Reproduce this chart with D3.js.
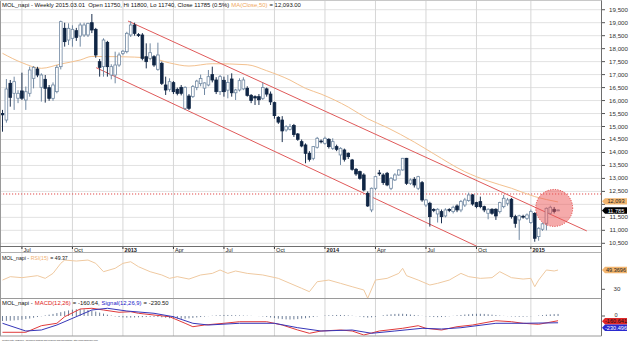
<!DOCTYPE html>
<html><head><meta charset="utf-8">
<script src="https://cdn.jsdelivr.net/npm/d3@7/dist/d3.min.js"></script>
<style>html,body{margin:0;padding:0;background:#fff;overflow:hidden}svg{display:block}text{font-family:"Liberation Sans",Arial,sans-serif;white-space:pre}</style>
</head><body><svg id="c" width="630" height="343"></svg>
<script>
// ---- DATA (weekly bars, index 0 = early Jun 2012, 143 = 2015.03.01) ----
const opens=[15500,15250,16664,16280,16090,16370,16020,16280,16857,17216,
16510,16818,16497,16086,16343,17306,18783,18333,18398,18693,
18487,18526,18526,19000,18744,17499,17306,18243,16985,16985,
17370,17820,17884,18526,18911,18540,18526,17690,17627,17691,
17204,17435,16600,16433,16690,16433,16510,15701,16176,16160,
16500,16650,16480,16600,17000,16793,16343,16780,16400,16831,
16300,16407,16450,16472,16202,16151,16150,16086,16450,16250,
15920,15355,15250,14867,14892,15040,14713,14417,14289,13968,
13775,14199,14440,14353,14507,14160,14225,13904,14096,13968,
13711,13351,13262,13133,12427,11785,12620,13210,13133,13198,
12620,12941,13133,13326,13775,12812,12966,12620,12838,11977,
12042,11800,11631,11721,11554,11800,11721,11939,11785,11977,
12145,12363,12068,12106,11913,11657,11811,11811,11721,11913,
12042,12196,11528,11400,11540,11464,11300,11650,10758,11041,
11271,11657,11811,11750];
const highs=[15640,16830,16793,16920,16400,17075,16540,17306,17330,17300,
17050,16985,16600,16700,17370,19080,19000,18975,18900,18800,
19000,19000,19000,19335,18800,17600,18398,18300,17400,17884,
17850,17950,18650,19065,19000,18600,18600,18205,18205,17750,
18231,17500,16921,16857,16750,16500,16600,16550,16250,16600,
16800,17000,16700,17178,17306,16900,16985,16921,16985,17050,
16450,16857,16896,16550,16250,16200,16250,16690,16500,16350,
15960,15400,15400,15050,15100,15100,14750,14500,14350,14050,
14250,14600,14500,14610,14550,14546,14300,14200,14150,14000,
13750,13400,13300,13200,12500,12650,13100,13326,13200,13250,
13050,13200,13350,13790,13790,13000,13050,13100,12900,12200,
12100,11850,11850,11800,11850,11850,11950,12000,12170,12250,
12453,12400,12100,12299,11950,11850,11850,11850,12100,12363,
12250,12250,11600,11600,11600,11650,11800,11700,11120,11300,
11880,11950,11900,11800];
const lows=[14800,15150,15765,15640,15900,16020,15640,16150,16470,16900,
15960,15920,15990,15990,16279,17200,18077,18140,18077,18300,
18077,18450,18450,18600,17650,16921,16921,16921,16818,16664,
17300,17750,17820,18450,18500,18450,17550,17240,17550,17300,
17150,16600,16215,16343,16250,16200,16200,15637,15637,16100,
16400,16550,16215,16550,16700,16250,16215,16150,16087,16150,
16022,16350,16400,16150,15900,15830,15830,16022,16150,15830,
15300,15100,14400,14800,14850,14600,14450,14200,13583,13650,
13700,14150,14350,14300,14150,14100,14050,13519,13650,13750,
13300,13100,12950,12500,11900,11700,12550,13100,12750,12700,
12550,12900,13100,13300,12750,12750,12650,12550,12100,11900,
11143,11700,11300,11271,11500,11700,11650,11700,11700,11900,
12100,11950,11850,11850,11700,11425,11600,11400,11650,11850,
11950,11450,11100,10630,11450,11400,11250,10560,10600,10980,
11000,11600,11650,11740];
const closes=[15450,16446,16125,16728,16280,16090,16340,17178,17280,16985,
16985,16471,16086,16600,17280,19040,18270,18783,18744,18436,
18911,18911,18975,18719,17756,17280,18333,17306,17306,17370,
17756,17900,18590,18911,18590,18510,17627,17499,17846,17370,
17756,16664,16407,16728,16343,16279,16279,16510,15701,16536,
16750,16850,16680,16920,16793,16343,16921,16343,16700,16300,
16407,16767,16793,16200,16000,16100,16030,16500,16250,15950,
15420,15170,14830,14995,14995,14690,14507,14250,13968,13737,
14225,14546,14410,14546,14225,14417,14122,14160,13737,13840,
13351,13172,13005,12556,11939,12620,13069,13180,12838,12748,
13005,13133,13326,13775,12812,12941,12748,13069,12170,12170,
11528,11780,11811,11528,11785,11770,11888,11785,12106,12170,
12363,12016,11913,11913,11785,11811,11657,11554,12068,12235,
12170,11528,11270,11560,11520,11592,11720,10694,11079,11250,
11849,11888,11726,11785];

const tickIdx=[5,18,31,44,57,70,83,96,109,122,136];
const tickLabels=["Jul","Oct","2013","Apr","Jul","Oct","2014","Apr","Jul","Oct","2015"];
const priceTicks=[10500,11000,11500,12000,12500,13000,13500,14000,14500,15000,15500,16000,16500,17000,17500,18000,18500,19000,19500];

// MA(Close,50) at bar indices
const maIdx=[0,5,10,15,20,23,30,38,43,48,54,63,68,74,78,82,89,94,99,106,111,119,125,131,137,143];
const maVal=[17820,17460,17243,17409,17563,17700,17690,17640,17450,17330,17420,17380,17150,16790,16470,16250,15750,15300,14960,14400,13950,13260,12900,12621,12300,12093];

// RSI(15)
const rsiIdx=[0,2,5,9,11,13,15,16,19,22,24,26,29,31,33,35,38,41,43,45,48,51,54,56,58,60,63,67,71,74,77,79,81,84,87,90,93,94,96,99,102,103,104,107,110,112,115,118,120,123,126,128,131,134,136,137,138,140,142,143];
const rsiVal=[39.3,42.7,41.7,43.7,41,46,56.1,59.4,58.4,59.4,56.1,47.7,51.1,56.1,57.7,52.7,47.7,44.4,41,42.7,40.3,44.4,46,49.4,46,48.4,46,44.4,41,36,31,27.6,37.6,39.3,36,32.6,29.3,21,39.3,41,46,51.1,43.7,39.3,34.3,36,39.3,46,42.7,41,41.7,47.7,41.7,40.3,41,32.6,39.3,49.4,48.4,49.37];

// MACD(12,26), Signal(12,26,9)
const macdIdx=[0,6,10,14,16,20,23,26,30,33,35,39,43,47,49,52,57,61,68,72,76,79,82,87,90,93,97,103,107,109,113,117,121,127,131,134,138,143];
const macdVal=[-554,-554,-330,-248,-24,238,262,204,126,146,92,34,-24,-248,-364,-306,-248,-194,-194,-306,-476,-588,-510,-476,-510,-646,-510,-418,-330,-418,-476,-364,-306,-160,-194,-248,-282,-160.64];
const sigIdx=[0,6,10,14,20,23,27,32,39,44,49,53,61,70,76,82,90,95,101,108,113,118,127,134,143];
const sigVal=[-248,-510,-476,-306,34,204,262,170,92,-24,-248,-306,-248,-248,-398,-510,-476,-588,-510,-418,-442,-398,-248,-248,-230.5];
const hist=[-170,-165,-160,-150,-140,-125,-105,-85,-60,-35,
-10,20,45,70,100,130,160,190,215,230,
235,225,205,180,150,115,80,45,15,-15,
-35,-50,-55,-55,-50,-45,-40,-35,-30,-30,
-35,-45,-60,-75,-85,-90,-95,-90,-80,-65,
-50,-35,-20,-5,10,20,30,35,35,30,
25,20,15,10,5,0,-5,-15,-30,-50,
-70,-90,-105,-115,-120,-115,-105,-90,-75,-55,
-35,-15,0,15,25,30,35,35,30,20,
10,-5,-20,-40,-55,-45,-25,0,25,45,
60,70,75,75,65,50,35,20,5,-10,
-25,-35,-40,-35,-25,-10,5,20,35,50,
60,70,75,75,70,60,45,30,15,5,
-5,-15,-20,-25,-25,-20,-10,0,15,30,
45,55,65,70];

// Trend channel (bar index, price) and annotations
const channelUpper=[[32.3,19065],[150.4,10976]];
const channelLower=[[24.1,17267],[122.4,10363]];
const resistanceLevel=12400;
const highlight={i:142,v:11862};

// ---- LAYOUT ----
const W=630,H=343,PL=0,PR=601;
const M={top:1,bottom:246}, AX={top:246,bottom:252.5}, R={top:252.5,bottom:298.5}, MC={top:298.5,bottom:336};
const X0=2.5,STEP=3.885;
const x=d3.scaleLinear().domain([0,143]).range([X0,X0+143*STEP]);
const y=d3.scaleLinear().domain([10500,19000]).range([243.3,22.7]);
const yR=d3.scaleLinear().domain([30,50]).range([289.3,269.4]);
const yM=d3.scaleLinear().domain([0,-340]).range([316,326]);

const svg=d3.select("#c");
const defs=svg.append("defs");
defs.append("clipPath").attr("id","cm").append("rect").attr("x",PL).attr("y",M.top).attr("width",PR-PL).attr("height",M.bottom-M.top);
defs.append("clipPath").attr("id","cr").append("rect").attr("x",PL).attr("y",R.top).attr("width",PR-PL).attr("height",R.bottom-R.top);
defs.append("clipPath").attr("id","cc").append("rect").attr("x",PL).attr("y",MC.top).attr("width",PR-PL).attr("height",MC.bottom-MC.top);

svg.append("rect").attr("width",W).attr("height",H).attr("fill","#fff");

// horizontal grid (main)
svg.append("g").selectAll("line").data(priceTicks).join("line")
  .attr("x1",PL).attr("x2",PR).attr("y1",d=>y(d)).attr("y2",d=>y(d))
  .attr("stroke","#e2e2e2").attr("stroke-width",1);
// vertical grid through all panels
svg.append("g").selectAll("line").data(tickIdx).join("line")
  .attr("x1",d=>x(d)).attr("x2",d=>x(d)).attr("y1",M.top).attr("y2",MC.bottom)
  .attr("stroke","#d6d6d6").attr("stroke-width",1);

// main panel content
const gm=svg.append("g").attr("clip-path","url(#cm)");
gm.append("line").attr("x1",PL).attr("x2",PR).attr("y1",y(resistanceLevel)).attr("y2",y(resistanceLevel))
  .attr("stroke","#e04848").attr("stroke-width",1).attr("stroke-dasharray","1.2,1.8");
const maLine=d3.line().x(d=>x(d[0])).y(d=>y(d[1])).curve(d3.curveMonotoneX);
gm.append("path").datum(maIdx.map((d,k)=>[d,maVal[k]])).attr("d",maLine)
  .attr("fill","none").attr("stroke","#f3c18f").attr("stroke-width",1);
[channelUpper,channelLower].forEach(c=>{
  gm.append("line").attr("x1",x(c[0][0])).attr("y1",y(c[0][1])).attr("x2",x(c[1][0])).attr("y2",y(c[1][1]))
    .attr("stroke","#e05a5a").attr("stroke-width",1);
});
const bars=d3.range(opens.length);
gm.append("g").selectAll("line").data(bars).join("line")
  .attr("x1",i=>x(i)).attr("x2",i=>x(i)).attr("y1",i=>y(highs[i])).attr("y2",i=>y(lows[i]))
  .attr("stroke",i=>closes[i]<opens[i]?"#1b2f4d":"#7088a2").attr("stroke-width",1);
const BW=2.7;
gm.append("g").selectAll("rect").data(bars).join("rect")
  .attr("x",i=>x(i)-BW/2).attr("width",BW)
  .attr("y",i=>y(Math.max(opens[i],closes[i])))
  .attr("height",i=>Math.max(0.8,Math.abs(y(opens[i])-y(closes[i]))))
  .attr("fill",i=>closes[i]<opens[i]?"#0f2544":"#ffffff")
  .attr("stroke",i=>closes[i]<opens[i]?"#0f2544":"#7088a2").attr("stroke-width",0.8);
gm.append("circle").attr("cx",x(highlight.i)).attr("cy",y(highlight.v)).attr("r",18.5)
  .attr("fill","#ec5656").attr("fill-opacity",0.5).attr("stroke","#e03c3c").attr("stroke-width",1).attr("stroke-dasharray","1,1.5");

// RSI panel
const gr=svg.append("g").attr("clip-path","url(#cr)");
gr.append("path").datum(rsiIdx.map((d,k)=>[d,rsiVal[k]]))
  .attr("d",d3.line().x(d=>x(d[0])).y(d=>yR(d[1])))
  .attr("fill","none").attr("stroke","#efc9a0").attr("stroke-width",1);

// MACD panel
const gc=svg.append("g").attr("clip-path","url(#cc)");
gc.append("g").selectAll("line").data(bars).join("line")
  .attr("x1",i=>x(i)).attr("x2",i=>x(i)).attr("y1",yM(0)).attr("y2",i=>yM(hist[i]))
  .attr("stroke","#5c6f8c").attr("stroke-width",0.9);
gc.append("path").datum(macdIdx.map((d,k)=>[d,macdVal[k]]))
  .attr("d",d3.line().x(d=>x(d[0])).y(d=>yM(d[1])))
  .attr("fill","none").attr("stroke","#e03a3a").attr("stroke-width",1);
gc.append("path").datum(sigIdx.map((d,k)=>[d,sigVal[k]]))
  .attr("d",d3.line().x(d=>x(d[0])).y(d=>yM(d[1])))
  .attr("fill","none").attr("stroke","#3636b8").attr("stroke-width",1);

// frames
const frame=svg.append("g").attr("fill","none");
frame.append("line").attr("x1",0.5).attr("x2",0.5).attr("y1",0).attr("y2",MC.bottom).attr("stroke","#9a9a9a");
frame.append("line").attr("x1",PR+0.5).attr("x2",PR+0.5).attr("y1",0).attr("y2",MC.bottom).attr("stroke","#6e6e6e");
[[0.5,"#c8c8c8"],[AX.top+0.5,"#6e6e6e"],[AX.bottom,"#b0b0b0"],[R.bottom,"#9a9a9a"],[MC.bottom,"#9a9a9a"]].forEach(([yy,c])=>{
  frame.append("line").attr("x1",0).attr("x2",PR+0.5).attr("y1",yy).attr("y2",yy).attr("stroke",c);
});

// x axis labels
const ax=svg.append("g");
ax.selectAll("line").data(tickIdx).join("line").attr("x1",d=>x(d)).attr("x2",d=>x(d)).attr("y1",AX.top+1).attr("y2",AX.top+3).attr("stroke","#333");
ax.selectAll("text").data(tickIdx).join("text").attr("x",d=>x(d)+1.6).attr("y",AX.top+5.9)
  .attr("font-size",5.6).attr("fill","#222").attr("font-weight",(d,k)=>/^\d/.test(tickLabels[k])?"bold":"normal")
  .text((d,k)=>tickLabels[k]);

// right price axis (labels hidden under the value tags are skipped, as in the reference)
const maTagY=y(maVal[maVal.length-1])-0.6, closeTagY=y(closes[closes.length-1])+0.6;
const ra=svg.append("g");
ra.selectAll("line").data(priceTicks).join("line").attr("x1",PR+1).attr("x2",PR+4).attr("y1",d=>y(d)).attr("y2",d=>y(d)).attr("stroke","#555");
ra.selectAll("text").data(priceTicks.filter(t=>Math.abs(y(t)-maTagY)>6&&Math.abs(y(t)-closeTagY)>6)).join("text")
  .attr("x",628).attr("y",d=>y(d)+2).attr("text-anchor","end")
  .attr("font-size",6.2).attr("fill","#333").text(d=>d3.format(",")(d));

function tag(yc,txt,fill,tc){
  const g=svg.append("g");
  g.append("path").attr("d",`M${PR+1},${yc} L${PR+4},${yc-3.2} L627,${yc-3.2} L627,${yc+3.2} L${PR+4},${yc+3.2} Z`).attr("fill",fill);
  g.append("text").attr("x",616).attr("y",yc+2).attr("text-anchor","middle").attr("font-size",5.6).attr("fill",tc).text(txt);
}
tag(maTagY,"12,093","#f2b56e","#222");
tag(closeTagY,"11,785","#000","#fff");

// RSI axis
svg.append("line").attr("x1",PR+1).attr("x2",PR+4).attr("y1",yR(30)).attr("y2",yR(30)).attr("stroke","#555");
svg.append("text").attr("x",617).attr("y",yR(30)+2).attr("text-anchor","middle").attr("font-size",6.2).attr("fill","#333").text("30");
tag(yR(rsiVal[rsiVal.length-1]),"49.3696","#f2b56e","#222");

// MACD axis
svg.append("line").attr("x1",PR+1).attr("x2",PR+4).attr("y1",yM(0)).attr("y2",yM(0)).attr("stroke","#555");
svg.append("text").attr("x",616).attr("y",yM(0)+0.5).attr("text-anchor","middle").attr("font-size",5.6).attr("fill","#333").text("0");
tag(yM(macdVal[macdVal.length-1])+0.5,"-160.641","#e02828","#111");
tag(yM(macdVal[macdVal.length-1])+7.1,"-230.496","#2a2ad0","#fff");

// titles: segments laid out with their natural widths, font size fitted to the span
function titleLine(yy,x0,x1,segs){
  const nodes=segs.map(s=>svg.append("text").attr("y",yy).attr("font-size",10).attr("fill",s[1]).text(s[0]));
  const total=d3.sum(nodes,n=>n.node().getComputedTextLength());
  const fs=10*(x1-x0-0.4*(segs.length-1))/total;
  let cx=x0;
  nodes.forEach(n=>{n.attr("font-size",fs).attr("x",cx);cx+=n.node().getComputedTextLength()+0.4;});
}
titleLine(6.6,2,302,[["MOL_napi - Weekly 2015.03.01  Open 11750, Hi 11800, Lo 11740, Close 11785 (0.5%) ","#111"],["MA(Close,50)","#f0a860"],[" = 12,093.00","#111"]]);
titleLine(259.6,2,68,[["MOL_napi - ","#111"],["RSI(15)","#f0b070"],[" = 49.37","#111"]]);
titleLine(305,2,169,[["MOL_napi - ","#111"],["MACD(12,26)","#e02020"],[" = -160.64, ","#111"],["Signal(12,26,9)","#2020c8"],[" = -230.50","#111"]]);
titleLine(341.3,2,98,[["Created with AmiBroker - advanced charting and technical analysis software. http://www.amibroker.com","#333"]]);
</script></body></html>
